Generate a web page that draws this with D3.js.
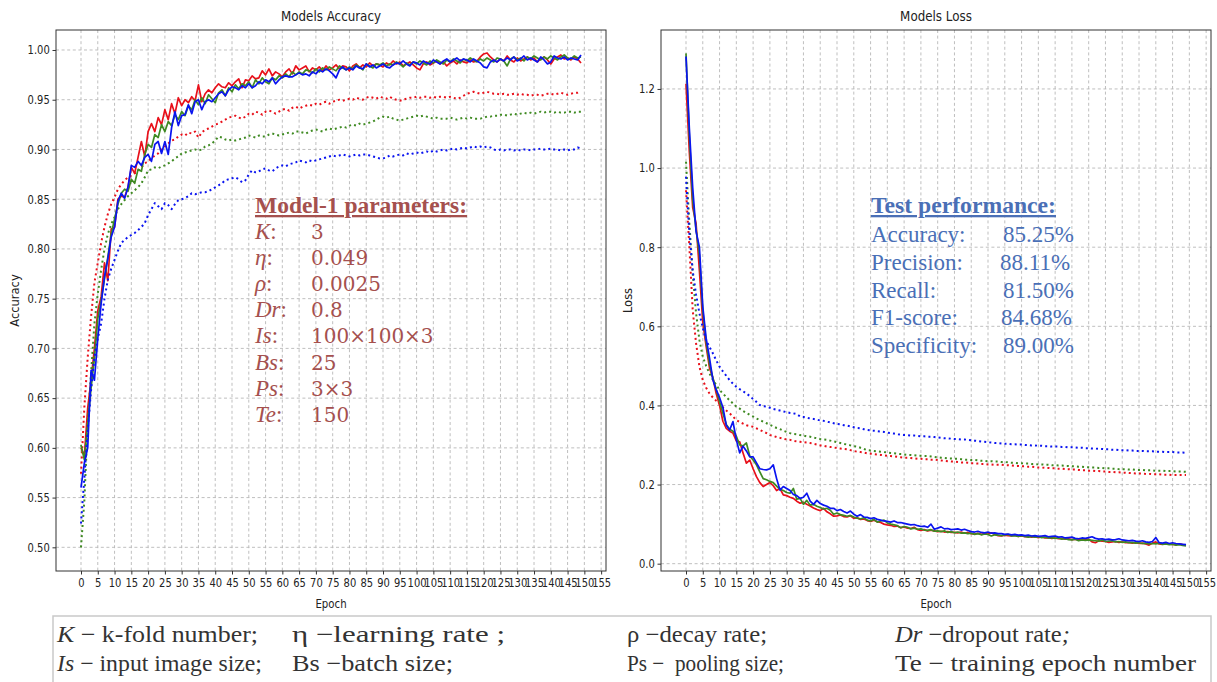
<!DOCTYPE html>
<html><head><meta charset="utf-8">
<script src="https://cdn.jsdelivr.net/npm/d3@7"></script>
<style>body{margin:0;background:#fff;} svg{display:block;}</style>
</head><body>
<svg id="chart" width="1217" height="682"></svg>
<script>
// ---------------- DATA ----------------
const epochTicks = [0,5,10,15,20,25,30,35,40,45,50,55,60,65,70,75,80,85,90,95,100,105,110,115,120,125,130,135,140,145,150,155];
const accTicks = [0.50,0.55,0.60,0.65,0.70,0.75,0.80,0.85,0.90,0.95,1.00];
const lossTicks = [0.0,0.2,0.4,0.6,0.8,1.0,1.2];

const accTrainRed = [
0.600,0.592,0.640,0.668,0.700,0.738,0.752,0.786,0.768,0.820,
0.822,0.850,0.853,0.852,0.862,0.882,0.876,0.892,0.908,0.893,
0.918,0.926,0.918,0.932,0.925,0.940,0.930,0.946,0.936,0.952,
0.944,0.950,0.947,0.953,0.949,0.965,0.948,0.956,0.960,0.957,
0.962,0.966,0.963,0.962,0.967,0.964,0.968,0.971,0.962,0.970,
0.969,0.974,0.971,0.972,0.979,0.975,0.981,0.974,0.978,0.976,
0.973,0.978,0.981,0.976,0.984,0.980,0.982,0.984,0.978,0.982,
0.980,0.983,0.979,0.984,0.980,0.982,0.985,0.981,0.984,0.983,
0.979,0.984,0.986,0.982,0.985,0.983,0.987,0.984,0.986,0.985,
0.983,0.987,0.985,0.989,0.986,0.988,0.984,0.986,0.988,0.985,
0.982,0.980,0.986,0.988,0.985,0.987,0.989,0.986,0.988,0.984,
0.987,0.989,0.986,0.990,0.988,0.987,0.990,0.988,0.989,0.993,
0.996,0.997,0.993,0.990,0.988,0.991,0.989,0.994,0.990,0.988,
0.992,0.989,0.991,0.993,0.990,0.992,0.988,0.991,0.993,0.990,
0.986,0.991,0.993,0.995,0.991,0.992,0.990,0.993,0.991,0.987];
const accTrainGreen = [
0.603,0.588,0.625,0.660,0.690,0.730,0.748,0.770,0.792,0.815,
0.830,0.845,0.856,0.860,0.858,0.870,0.866,0.880,0.878,0.895,
0.905,0.902,0.915,0.912,0.925,0.918,0.928,0.924,0.935,0.930,
0.938,0.934,0.944,0.940,0.950,0.945,0.952,0.946,0.955,0.951,
0.947,0.957,0.960,0.954,0.962,0.958,0.965,0.961,0.966,0.964,
0.968,0.962,0.970,0.966,0.972,0.968,0.966,0.972,0.970,0.974,
0.972,0.976,0.973,0.978,0.975,0.978,0.976,0.980,0.979,0.977,
0.981,0.978,0.982,0.980,0.983,0.981,0.979,0.984,0.982,0.980,
0.983,0.981,0.985,0.983,0.980,0.986,0.984,0.982,0.986,0.985,
0.987,0.984,0.986,0.985,0.988,0.986,0.983,0.987,0.985,0.988,
0.986,0.989,0.987,0.985,0.989,0.987,0.990,0.988,0.986,0.990,
0.988,0.991,0.989,0.987,0.991,0.989,0.992,0.990,0.988,0.991,
0.989,0.992,0.990,0.988,0.992,0.991,0.989,0.984,0.991,0.993,
0.990,0.992,0.989,0.993,0.991,0.994,0.992,0.990,0.993,0.991,
0.994,0.992,0.990,0.993,0.995,0.992,0.991,0.994,0.992,0.993];
const accTrainBlue = [
0.560,0.585,0.600,0.678,0.668,0.710,0.745,0.772,0.790,0.812,
0.822,0.848,0.856,0.851,0.862,0.884,0.882,0.888,0.884,0.892,
0.895,0.888,0.905,0.908,0.896,0.908,0.895,0.922,0.938,0.924,
0.934,0.935,0.945,0.936,0.948,0.950,0.940,0.948,0.950,0.948,
0.952,0.956,0.958,0.954,0.960,0.963,0.962,0.960,0.964,0.962,
0.966,0.962,0.964,0.968,0.966,0.970,0.968,0.972,0.966,0.970,
0.973,0.974,0.973,0.973,0.975,0.977,0.975,0.976,0.974,0.978,
0.976,0.980,0.978,0.981,0.979,0.976,0.972,0.980,0.983,0.980,
0.982,0.980,0.984,0.982,0.981,0.986,0.983,0.985,0.982,0.984,
0.986,0.983,0.982,0.985,0.987,0.986,0.989,0.986,0.984,0.988,
0.987,0.985,0.989,0.987,0.986,0.990,0.988,0.986,0.989,0.991,
0.988,0.990,0.992,0.989,0.991,0.990,0.988,0.991,0.989,0.987,
0.983,0.982,0.988,0.990,0.988,0.991,0.989,0.992,0.990,0.993,
0.989,0.991,0.994,0.990,0.992,0.990,0.988,0.993,0.990,0.986,
0.988,0.994,0.992,0.991,0.993,0.990,0.992,0.991,0.990,0.995];
const accValRed = [
0.574,0.641,0.691,0.732,0.766,0.786,0.806,0.822,0.835,0.845,
0.852,0.860,0.865,0.869,0.872,0.874,0.876,0.878,0.882,0.886,
0.888,0.891,0.894,0.896,0.900,0.903,0.906,0.909,0.910,0.913,
0.915,0.914,0.917,0.916,0.918,0.912,0.917,0.920,0.921,0.923,
0.925,0.926,0.928,0.930,0.932,0.933,0.934,0.932,0.931,0.933,
0.936,0.935,0.938,0.937,0.935,0.938,0.939,0.938,0.936,0.938,
0.940,0.941,0.939,0.942,0.943,0.941,0.943,0.944,0.945,0.944,
0.946,0.945,0.947,0.948,0.946,0.948,0.949,0.950,0.949,0.950,
0.951,0.950,0.952,0.951,0.950,0.952,0.953,0.952,0.951,0.953,
0.952,0.951,0.953,0.951,0.950,0.949,0.950,0.951,0.952,0.952,
0.953,0.952,0.953,0.953,0.952,0.953,0.952,0.953,0.953,0.952,
0.953,0.952,0.951,0.952,0.954,0.956,0.957,0.958,0.957,0.956,
0.957,0.958,0.957,0.956,0.956,0.955,0.956,0.955,0.955,0.956,
0.955,0.956,0.955,0.955,0.954,0.955,0.955,0.954,0.955,0.956,
0.956,0.955,0.956,0.957,0.956,0.955,0.956,0.957,0.957,0.958];
const accValGreen = [
0.500,0.547,0.624,0.675,0.725,0.755,0.779,0.800,0.815,0.825,
0.832,0.840,0.845,0.849,0.853,0.856,0.859,0.862,0.866,0.872,
0.879,0.880,0.882,0.881,0.883,0.884,0.886,0.888,0.891,0.893,
0.896,0.897,0.898,0.899,0.900,0.899,0.900,0.903,0.904,0.906,
0.909,0.913,0.912,0.910,0.909,0.910,0.909,0.910,0.911,0.912,
0.914,0.913,0.912,0.914,0.913,0.913,0.915,0.916,0.915,0.914,
0.915,0.916,0.917,0.916,0.918,0.918,0.917,0.916,0.918,0.919,
0.920,0.919,0.918,0.920,0.921,0.920,0.921,0.922,0.923,0.922,
0.924,0.925,0.924,0.926,0.925,0.926,0.927,0.928,0.930,0.932,
0.933,0.932,0.933,0.931,0.930,0.929,0.930,0.931,0.932,0.933,
0.934,0.933,0.934,0.933,0.932,0.931,0.932,0.931,0.931,0.931,
0.932,0.931,0.930,0.931,0.932,0.931,0.932,0.931,0.931,0.931,
0.932,0.933,0.933,0.934,0.934,0.935,0.935,0.934,0.935,0.936,
0.935,0.936,0.937,0.936,0.937,0.936,0.937,0.938,0.937,0.938,
0.938,0.937,0.938,0.937,0.937,0.938,0.938,0.937,0.938,0.938];
const accValBlue = [
0.524,0.570,0.618,0.658,0.691,0.710,0.725,0.750,0.769,0.780,
0.789,0.798,0.806,0.809,0.812,0.814,0.816,0.819,0.822,0.826,
0.834,0.840,0.846,0.843,0.840,0.846,0.844,0.840,0.845,0.849,
0.850,0.851,0.853,0.856,0.855,0.856,0.857,0.857,0.858,0.860,
0.862,0.864,0.866,0.869,0.870,0.871,0.872,0.870,0.867,0.869,
0.875,0.879,0.877,0.878,0.880,0.881,0.879,0.878,0.881,0.883,
0.884,0.883,0.885,0.886,0.887,0.889,0.888,0.887,0.889,0.888,
0.889,0.890,0.891,0.892,0.893,0.894,0.893,0.894,0.895,0.894,
0.893,0.894,0.895,0.894,0.895,0.895,0.894,0.893,0.892,0.891,
0.891,0.892,0.894,0.893,0.894,0.895,0.894,0.896,0.895,0.896,
0.897,0.896,0.897,0.898,0.897,0.899,0.898,0.899,0.900,0.899,
0.900,0.901,0.900,0.901,0.902,0.901,0.902,0.903,0.902,0.903,
0.902,0.903,0.902,0.900,0.899,0.900,0.899,0.900,0.900,0.899,
0.900,0.899,0.900,0.900,0.899,0.900,0.900,0.901,0.900,0.900,
0.901,0.900,0.900,0.899,0.900,0.899,0.900,0.900,0.902,0.901];

const lossTrainRed = [
1.213,1.040,0.900,0.860,0.740,0.610,0.550,0.495,0.470,0.430,
0.400,0.360,0.342,0.335,0.330,0.310,0.308,0.280,0.254,0.262,
0.240,0.220,0.205,0.195,0.200,0.205,0.197,0.185,0.190,0.174,
0.172,0.168,0.165,0.158,0.153,0.155,0.150,0.146,0.141,0.137,
0.134,0.140,0.131,0.126,0.120,0.121,0.123,0.119,0.118,0.121,
0.115,0.116,0.112,0.113,0.109,0.107,0.110,0.106,0.104,0.100,
0.098,0.097,0.094,0.095,0.091,0.093,0.090,0.089,0.092,0.086,
0.084,0.086,0.083,0.085,0.083,0.081,0.082,0.080,0.081,0.079,
0.079,0.078,0.080,0.077,0.079,0.076,0.075,0.077,0.074,0.076,
0.075,0.078,0.074,0.071,0.070,0.072,0.071,0.070,0.072,0.069,
0.070,0.068,0.069,0.067,0.068,0.066,0.068,0.065,0.066,0.064,
0.065,0.063,0.064,0.062,0.063,0.061,0.062,0.060,0.061,0.060,
0.062,0.055,0.053,0.058,0.057,0.056,0.054,0.055,0.056,0.054,
0.055,0.053,0.054,0.052,0.053,0.051,0.052,0.050,0.047,0.052,
0.055,0.050,0.049,0.051,0.050,0.049,0.048,0.050,0.048,0.047];
const lossTrainGreen = [
1.290,1.080,0.920,0.845,0.780,0.640,0.560,0.505,0.470,0.440,
0.410,0.380,0.352,0.340,0.335,0.322,0.300,0.298,0.305,0.272,
0.262,0.250,0.232,0.215,0.212,0.208,0.205,0.196,0.188,0.185,
0.180,0.178,0.190,0.163,0.165,0.150,0.160,0.148,0.150,0.145,
0.142,0.138,0.140,0.135,0.125,0.128,0.124,0.122,0.120,0.122,
0.118,0.115,0.113,0.116,0.110,0.108,0.112,0.105,0.108,0.110,
0.103,0.100,0.098,0.096,0.091,0.094,0.092,0.088,0.090,0.087,
0.088,0.085,0.084,0.086,0.082,0.083,0.081,0.083,0.079,0.081,
0.078,0.080,0.077,0.078,0.076,0.077,0.074,0.076,0.073,0.075,
0.074,0.070,0.073,0.072,0.071,0.073,0.074,0.070,0.071,0.069,
0.071,0.069,0.067,0.069,0.067,0.068,0.066,0.067,0.065,0.066,
0.064,0.065,0.062,0.063,0.061,0.060,0.062,0.058,0.060,0.059,
0.060,0.059,0.058,0.057,0.060,0.056,0.057,0.058,0.055,0.056,
0.054,0.055,0.053,0.054,0.052,0.053,0.051,0.052,0.050,0.051,
0.050,0.052,0.049,0.050,0.048,0.049,0.047,0.048,0.046,0.045];
const lossTrainBlue = [
1.282,1.100,0.950,0.840,0.800,0.650,0.570,0.520,0.465,0.440,
0.420,0.395,0.350,0.338,0.359,0.313,0.280,0.297,0.285,0.270,
0.270,0.255,0.240,0.238,0.237,0.240,0.250,0.215,0.186,0.195,
0.190,0.185,0.175,0.172,0.165,0.168,0.178,0.158,0.150,0.160,
0.152,0.148,0.145,0.140,0.140,0.134,0.137,0.132,0.128,0.133,
0.125,0.120,0.124,0.118,0.117,0.114,0.116,0.112,0.110,0.108,
0.107,0.105,0.108,0.104,0.104,0.102,0.100,0.098,0.099,0.096,
0.094,0.095,0.092,0.100,0.087,0.090,0.093,0.088,0.089,0.086,
0.087,0.088,0.085,0.087,0.084,0.081,0.080,0.082,0.079,0.078,
0.080,0.077,0.078,0.076,0.076,0.074,0.075,0.073,0.074,0.072,
0.073,0.071,0.072,0.070,0.071,0.069,0.070,0.071,0.068,0.069,
0.070,0.067,0.068,0.065,0.066,0.067,0.064,0.063,0.065,0.064,
0.066,0.068,0.064,0.062,0.063,0.061,0.062,0.060,0.061,0.063,
0.060,0.059,0.058,0.059,0.057,0.056,0.058,0.055,0.054,0.056,
0.066,0.053,0.052,0.054,0.051,0.053,0.051,0.050,0.049,0.048];
const lossValRed = [
0.944,0.800,0.641,0.557,0.498,0.464,0.445,0.430,0.420,0.412,
0.405,0.395,0.387,0.380,0.372,0.363,0.358,0.354,0.350,0.348,
0.346,0.342,0.338,0.334,0.330,0.325,0.323,0.320,0.318,0.316,
0.314,0.313,0.311,0.309,0.308,0.307,0.306,0.305,0.303,0.301,
0.299,0.298,0.296,0.295,0.294,0.292,0.291,0.290,0.289,0.287,
0.285,0.283,0.282,0.281,0.279,0.278,0.277,0.276,0.275,0.274,
0.273,0.272,0.271,0.270,0.269,0.268,0.268,0.267,0.266,0.265,
0.265,0.264,0.264,0.263,0.263,0.262,0.261,0.260,0.259,0.258,
0.258,0.257,0.256,0.256,0.255,0.254,0.254,0.253,0.252,0.252,
0.251,0.251,0.250,0.250,0.250,0.249,0.249,0.248,0.247,0.247,
0.246,0.246,0.245,0.245,0.244,0.243,0.243,0.242,0.242,0.241,
0.241,0.240,0.240,0.239,0.239,0.238,0.238,0.237,0.236,0.236,
0.235,0.235,0.234,0.234,0.233,0.233,0.232,0.232,0.231,0.231,
0.230,0.230,0.229,0.229,0.228,0.228,0.228,0.227,0.227,0.226,
0.226,0.226,0.225,0.225,0.225,0.224,0.224,0.224,0.224,0.224];
const lossValGreen = [
1.016,0.861,0.734,0.633,0.565,0.523,0.500,0.481,0.465,0.452,
0.439,0.430,0.421,0.413,0.405,0.397,0.392,0.386,0.381,0.376,
0.372,0.367,0.363,0.359,0.355,0.351,0.347,0.343,0.340,0.336,
0.333,0.330,0.328,0.327,0.325,0.324,0.322,0.321,0.319,0.317,
0.315,0.314,0.313,0.311,0.309,0.307,0.305,0.303,0.301,0.299,
0.297,0.296,0.293,0.290,0.287,0.286,0.285,0.284,0.283,0.282,
0.281,0.280,0.279,0.278,0.277,0.276,0.275,0.275,0.274,0.273,
0.273,0.272,0.272,0.271,0.270,0.269,0.268,0.267,0.266,0.266,
0.265,0.265,0.264,0.263,0.263,0.262,0.262,0.261,0.260,0.260,
0.259,0.259,0.258,0.258,0.257,0.257,0.256,0.255,0.255,0.254,
0.254,0.253,0.253,0.252,0.252,0.251,0.251,0.250,0.250,0.249,
0.249,0.248,0.248,0.247,0.247,0.246,0.246,0.245,0.245,0.244,
0.244,0.243,0.243,0.242,0.242,0.241,0.241,0.240,0.240,0.239,
0.239,0.239,0.238,0.238,0.237,0.237,0.237,0.236,0.236,0.236,
0.235,0.235,0.235,0.234,0.234,0.234,0.233,0.233,0.233,0.232];
const lossValBlue = [
0.978,0.835,0.740,0.680,0.633,0.596,0.565,0.548,0.532,0.514,
0.498,0.486,0.475,0.464,0.455,0.447,0.441,0.436,0.430,0.424,
0.416,0.409,0.401,0.398,0.397,0.394,0.391,0.389,0.387,0.385,
0.383,0.381,0.380,0.378,0.372,0.371,0.369,0.367,0.366,0.364,
0.362,0.361,0.359,0.357,0.355,0.353,0.352,0.350,0.349,0.347,
0.345,0.343,0.342,0.340,0.338,0.337,0.336,0.335,0.334,0.333,
0.331,0.330,0.329,0.327,0.326,0.325,0.325,0.324,0.324,0.323,
0.322,0.322,0.321,0.321,0.320,0.319,0.318,0.317,0.317,0.316,
0.315,0.315,0.314,0.314,0.313,0.312,0.311,0.310,0.309,0.308,
0.307,0.306,0.305,0.305,0.304,0.303,0.303,0.302,0.302,0.301,
0.301,0.300,0.300,0.299,0.299,0.298,0.298,0.297,0.297,0.296,
0.296,0.296,0.295,0.295,0.294,0.294,0.294,0.293,0.293,0.292,
0.292,0.291,0.291,0.290,0.290,0.289,0.289,0.288,0.288,0.287,
0.287,0.287,0.286,0.286,0.285,0.285,0.285,0.284,0.284,0.284,
0.283,0.283,0.283,0.282,0.282,0.282,0.281,0.281,0.281,0.280];

const paramLabels = ["K","η","ρ","Dr","Is","Bs","Ps","Te"];
const paramValues = ["3","0.049","0.0025","0.8","100×100×3","25","3×3","150"];
const perfLabels = ["Accuracy:","Precision:","Recall:","F1-score:","Specificity:"];
const perfValues = ["85.25%","88.11%","81.50%","84.68%","89.00%"];

// ---------------- DRAWING ----------------
const COLORS = {red:"#e8101a", green:"#3f8a22", blue:"#0a14f0"};
const svg = d3.select("#chart");
svg.append("rect").attr("width",1217).attr("height",682).attr("fill","#fff");

function panel(o){
  const g = svg.append("g");
  const x = d3.scaleLinear().domain([-7.45,156.45]).range([o.x0,o.x1]);
  const y = d3.scaleLinear().domain(o.yDomain).range([o.y1,o.y0]);
  // grid
  g.append("g").selectAll("line").data(epochTicks).join("line")
    .attr("x1",d=>x(d)).attr("x2",d=>x(d)).attr("y1",o.y0).attr("y2",o.y1)
    .attr("stroke","#b8b8b8").attr("stroke-width",0.9).attr("stroke-dasharray","3,2.6");
  g.append("g").selectAll("line").data(o.yTicks).join("line")
    .attr("y1",d=>y(d)).attr("y2",d=>y(d)).attr("x1",o.x0).attr("x2",o.x1)
    .attr("stroke","#b8b8b8").attr("stroke-width",0.9).attr("stroke-dasharray","3,2.6");
  // lines
  const line = d3.line().x((d,i)=>x(i)).y(d=>y(d));
  o.series.forEach(s=>{
    g.append("path").datum(s.values).attr("d",line).attr("fill","none")
      .attr("stroke",COLORS[s.color]).attr("stroke-width",s.dotted?2:1.7)
      .attr("stroke-dasharray",s.dotted?"2,3.1":null).attr("stroke-linejoin","round");
  });
  // frame
  g.append("rect").attr("x",o.x0).attr("y",o.y0).attr("width",o.x1-o.x0).attr("height",o.y1-o.y0)
    .attr("fill","none").attr("stroke","#333").attr("stroke-width",1);
  // axes
  const ax = g.append("g").attr("transform",`translate(0,${o.y1})`)
    .call(d3.axisBottom(x).tickValues(epochTicks).tickSize(3.5).tickPadding(3.5).tickFormat(d3.format("d")));
  const ay = g.append("g").attr("transform",`translate(${o.x0},0)`)
    .call(d3.axisLeft(y).tickValues(o.yTicks).tickSize(3.5).tickPadding(4).tickFormat(d3.format(o.yFmt)));
  [ax,ay].forEach(a=>{
    a.select(".domain").remove();
    a.selectAll(".tick line").attr("stroke","#333");
    a.selectAll(".tick text").attr("fill","#222").style("font-family","DejaVu Sans")
      .style("font-size","12px").attr("transform","scale(0.83,1)");
  });
  const cx = (o.x0+o.x1)/2;
  g.append("text").attr("x",0).attr("y",0).attr("transform",`translate(${cx},21) scale(0.85,1)`)
    .attr("text-anchor","middle").style("font-family","DejaVu Sans").style("font-size","14px")
    .attr("fill","#222").text(o.title);
  g.append("text").attr("transform",`translate(${cx},608) scale(0.85,1)`)
    .attr("text-anchor","middle").style("font-family","DejaVu Sans").style("font-size","12px")
    .attr("fill","#222").text("Epoch");
  g.append("text").attr("transform",`translate(${o.ylx},${(o.y0+o.y1)/2}) rotate(-90)`)
    .attr("text-anchor","middle").style("font-family","DejaVu Sans").style("font-size","11.5px")
    .attr("fill","#222").text(o.ylabel);
  return {x,y,g};
}

panel({x0:56,x1:606,y0:30,y1:571,yDomain:[0.4762,1.0201],yTicks:accTicks,yFmt:".2f",
  title:"Models Accuracy",ylabel:"Accuracy",ylx:19,
  series:[
    {values:accTrainRed,color:"red"},{values:accValRed,color:"red",dotted:true},
    {values:accTrainGreen,color:"green"},{values:accValGreen,color:"green",dotted:true},
    {values:accTrainBlue,color:"blue"},{values:accValBlue,color:"blue",dotted:true}]});
panel({x0:661,x1:1211,y0:30,y1:571,yDomain:[-0.0185,1.349],yTicks:lossTicks,yFmt:".1f",
  title:"Models Loss",ylabel:"Loss",ylx:632,
  series:[
    {values:lossTrainRed,color:"red"},{values:lossValRed,color:"red",dotted:true},
    {values:lossTrainGreen,color:"green"},{values:lossValGreen,color:"green",dotted:true},
    {values:lossTrainBlue,color:"blue"},{values:lossValBlue,color:"blue",dotted:true}]});

// ---- annotation: Model-1 parameters ----
const PCOL = "#a5504e";
const ann = svg.append("g");
ann.append("text").attr("x",255).attr("y",213).attr("textLength",212).attr("lengthAdjust","spacingAndGlyphs")
  .style("font-family","Liberation Serif").style("font-weight","bold").style("font-size","23px")
  .style("text-decoration","underline").attr("fill",PCOL).text("Model-1 parameters:");
paramLabels.forEach((l,i)=>{
  const t = ann.append("text").attr("x",255).attr("y",239+i*26.1)
    .style("font-family","Liberation Serif").style("font-size","23px").attr("fill",PCOL);
  t.append("tspan").style("font-style","italic").text(l);
  t.append("tspan").text(":");
  ann.append("text").attr("x",311).attr("y",239+i*26.1)
    .style("font-family","DejaVu Serif").style("font-size","20px").attr("fill",PCOL).text(paramValues[i]);
});

// ---- annotation: Test performance ----
const BCOL = "#4a6fb6";
svg.append("text").attr("x",871).attr("y",213).attr("textLength",185).attr("lengthAdjust","spacingAndGlyphs")
  .style("font-family","Liberation Serif").style("font-weight","bold").style("font-size","23px")
  .style("text-decoration","underline").attr("fill",BCOL).text("Test performance:");
const perfVX = [1003,1000,1003,1001,1003];
perfLabels.forEach((l,i)=>{
  svg.append("text").attr("x",871).attr("y",242+i*27.8)
    .style("font-family","Liberation Serif").style("font-size","23px").attr("fill",BCOL).text(l);
  svg.append("text").attr("x",perfVX[i]).attr("y",242+i*27.8)
    .style("font-family","Liberation Serif").style("font-size","23px").attr("fill",BCOL).text(perfValues[i]);
});

// ---- bottom legend box ----
svg.append("rect").attr("x",53).attr("y",616).attr("width",1158).attr("height",80)
  .attr("fill","none").attr("stroke","#c9c9c9").attr("stroke-width",1.5);
const legendItems = [
  {x:57,y:642,w:201,parts:[["K",1],[" − k-fold number;",0]]},
  {x:292,y:642,w:213,parts:[["η −learning rate ;",0]]},
  {x:627,y:642,w:140,parts:[["ρ −decay rate;",0]]},
  {x:895,y:642,w:175,parts:[["Dr",1],[" −dropout rate",0],[";",1]]},
  {x:57,y:671,w:205,parts:[["Is",1],[" − input image size;",0]]},
  {x:292,y:671,w:161,parts:[["Bs −batch size;",0]]},
  {x:627,y:671,w:157,parts:[["Ps −  pooling size;",0]]},
  {x:895,y:671,w:301,parts:[["Te − training epoch number",0]]}
];
legendItems.forEach(it=>{
  const t = svg.append("text").attr("x",it.x).attr("y",it.y).attr("textLength",it.w)
    .attr("lengthAdjust","spacingAndGlyphs").attr("xml:space","preserve").style("white-space","pre")
    .style("font-family","Liberation Serif").style("font-size","23px").attr("fill","#333");
  it.parts.forEach(p=>t.append("tspan").style("font-style",p[1]?"italic":"normal").text(p[0]));
});
</script>
</body></html>
